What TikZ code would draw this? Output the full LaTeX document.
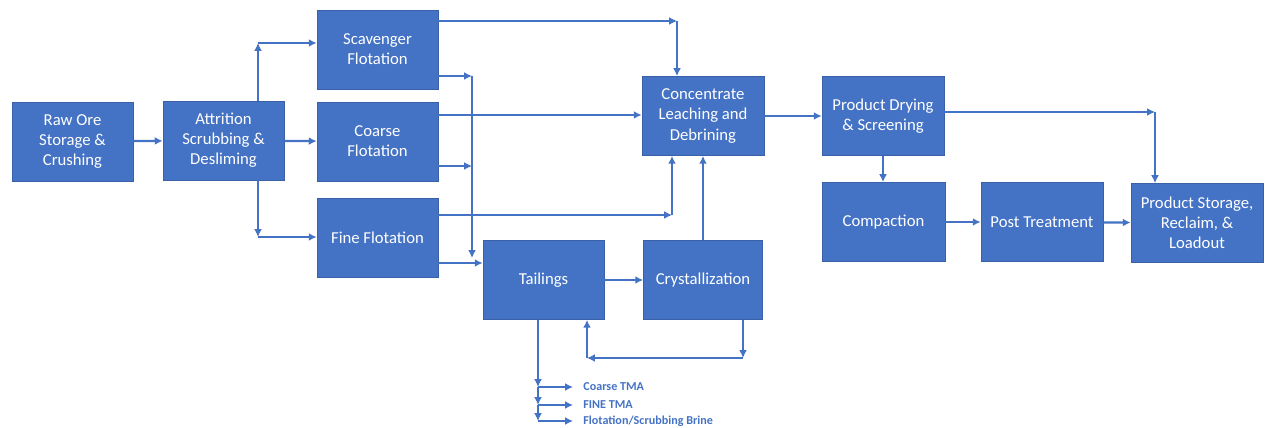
\documentclass[tikz,border=0pt]{standalone}
\usepackage{fontspec}
\setmainfont{Carlito}
\usetikzlibrary{arrows.meta}
\definecolor{boxblue}{HTML}{4472C4}

\begin{document}
\begin{tikzpicture}[x=0.02cm, y=-0.02cm,
	box/.style={rectangle, fill=boxblue, draw=boxblue!85!black, line width=0.4pt, text=white, align=center, minimum width=2.42cm, minimum height=1.58cm, inner sep=1pt, font=\fontsize{9.5}{11.4}\selectfont},
	flow/.style={draw=boxblue, line width=1.3pt, -{Latex[length=4.5pt,width=4.5pt]}},
	tma/.style={anchor=west, text=boxblue, font=\fontsize{6.9}{7}\selectfont\bfseries, inner xsep=0.2cm, inner ysep=0pt}]
				\useasboundingbox (0,0) rectangle (1267,428);
				
				\node[box] (raw) at (72.5,141.5) {Raw Ore\\Storage \&\\Crushing};
				\node[box] (attr) at (223.5,140.5) {Attrition\\Scrubbing \&\\Desliming};
				\node[box] (scav) at (377.5,49.5) {Scavenger\\Flotation};
				\node[box] (coarse) at (377.5,141.5) {Coarse\\Flotation};
				\node[box] (fine) at (377.5,238) {Fine Flotation};
				\node[box] (tail) at (543.5,280) {Tailings};
				\node[box, minimum width=2.38cm] (cryst) at (703,280) {Crystallization};
				\node[box, minimum width=2.44cm] (conc) at (703,116) {Concentrate\\Leaching and\\Debrining};
				\node[box, minimum width=2.44cm] (dry) at (883,116) {Product Drying\\\& Screening};
				\node[box, minimum width=2.46cm] (comp) at (883.5,222) {Compaction};
				\node[box, minimum width=2.44cm] (post) at (1042,222) {Post Treatment};
				\node[box, minimum width=2.64cm] (store) at (1197,223) {Product Storage,\\Reclaim, \&\\Loadout};
				
				\coordinate (ja) at (258,43);
				\coordinate (jb) at (258,237);
				\coordinate (jc) at (677,21);
				\coordinate (jd) at (472,76);
				\coordinate (je) at (472,166);
				\coordinate (jf) at (472,258);
				\coordinate (jg) at (672,215);
				\coordinate (jh) at (743,358);
				\coordinate (ji) at (587,358);
				\coordinate (jk) at (1155,112);
				\coordinate (t1) at (538,387);
				\coordinate (t2) at (538,405);
				\coordinate (t3) at (538,421);
				\coordinate (jl) at (0,115);
				\coordinate (jm) at (0,263);
				
				\node[tma] (l1) at (573,387) {Coarse TMA};
				\node[tma] (l2) at (573,405) {FINE TMA};
				\node[tma] (l3) at (573,421) {Flotation/Scrubbing Brine};
				
				\draw[flow] (raw) -- (attr);
				\draw[flow] (attr.north -| ja) -- (ja);
				\draw[flow] (ja) -- (ja -| scav.west);
				\draw[flow] (attr) -- (coarse);
				\draw[flow] (attr.south -| jb) -- (jb);
				\draw[flow] (jb) -- (jb -| fine.west);
				
				\draw[flow] (scav.east |- jc) -- (jc);
				\draw[flow] (jc) -- (jc |- conc.north);
				\draw[flow] (scav.east |- jd) -- (jd);
				\draw[flow] (jd) -- (jf);
				\draw[flow] (coarse.east |- je) -- (je);
				\draw[flow] (coarse.east |- jl) -- (conc.west |- jl);
				\draw[flow] (fine.east |- jg) -- (jg);
				\draw[flow] (jg) -- (jg |- conc.south);
				\draw[flow] (fine.east |- jm) -- (tail.west |- jm);
				
				\draw[flow] (tail) -- (cryst);
				\draw[flow] (cryst.north) -- (conc.south -| cryst.north);
				\draw[flow] (cryst.south -| jh) -- (jh);
				\draw[flow] (jh) -- (ji);
				\draw[flow] (ji) -- (ji |- tail.south);
				
				\draw[flow] (tail.south -| t1) -- (t1);
				\draw[flow] (t1) -- (t2);
				\draw[flow] (t2) -- (t3);
				\draw[flow] (t1) -- (l1.west);
				\draw[flow] (t2) -- (l2.west);
				\draw[flow] (t3) -- (l3.west);
				
				\draw[flow] (conc) -- (dry);
				\draw[flow] (dry.east |- jk) -- (jk);
				\draw[flow] (jk) -- (jk |- store.north);
				\draw[flow] (dry.south) -- (comp.north -| dry.south);
				\draw[flow] (comp) -- (post);
				\draw[flow] (post) -- (store);
\end{tikzpicture}
\end{document}
